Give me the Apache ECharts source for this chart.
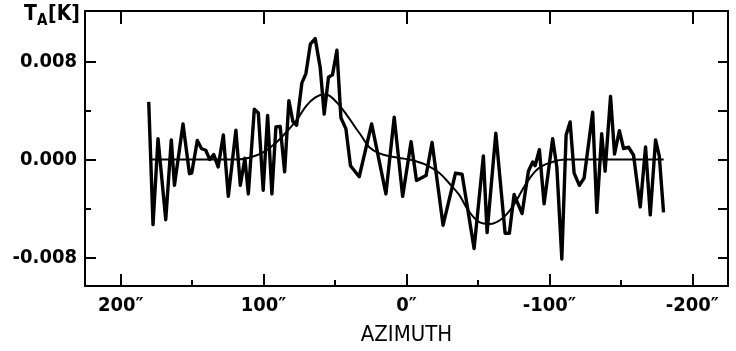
<!DOCTYPE html>
<html>
<head>
<meta charset="utf-8">
<script src="https://cdn.jsdelivr.net/npm/echarts@6/dist/echarts.min.js"></script>
<style>
  html, body { margin: 0; padding: 0; background: #fff; }
  #chart { width: 736px; height: 351px; }
</style>
</head>
<body>
<div id="chart"></div>
<script>
// azimuth in arcsec, antenna temperature in mK (converted to K below)
const noiseAz = [180.4, 177.4, 173.9, 168.5, 164.6, 162.4, 156.4, 151.9, 150.3, 146.4,
    143.5, 140.5, 137.7, 134.9, 131.8, 128.2, 124.7, 119.4, 116.3, 113.1,
    110.7, 106.5, 103.7, 100.3, 97.2, 94.2, 91.4, 88.4, 85.3, 82.3,
    79.5, 76.9, 73.2, 70.4, 67.3, 63.9, 60.4, 57.6, 54.6, 51.8,
    48.7, 45.9, 42.4, 39.2, 33.1, 24.4, 14.4, 8.6, 2.7, -3.2,
    -7.0, -13.7, -17.9, -25.6, -34.3, -38.9, -47.3, -53.8, -56.4, -62.5,
    -69, -72, -75.3, -80.9, -85.3, -88.3, -90, -93, -96.3, -102.3,
    -105.2, -108.7, -111.7, -114.5, -117.3, -121, -124.3, -130.3, -133.2, -136.6,
    -139, -142.8, -145.6, -149, -151.9, -155.4, -158.9, -163.6, -167.3, -170.6,
    -174.3, -176.9, -179.9];
const noiseMk = [4.7, -5.3, 1.7, -4.9, 1.6, -2.1, 2.9, -1.15, -1.1, 1.55,
    0.9, 0.76, 0, 0.4, -0.6, 2.0, -3.0, 2.4, -2.1, 0.1,
    -2.8, 4.1, 3.8, -2.5, 3.6, -2.8, 2.65, 2.7, -1.0, 4.8,
    3.1, 2.8, 6.25, 7.0, 9.4, 9.85, 7.5, 3.7, 6.7, 6.9,
    8.9, 3.4, 2.5, -0.5, -1.4, 2.9, -2.8, 3.45, -3.0, 1.45,
    -1.7, -1.3, 1.4, -5.35, -1.1, -1.2, -7.25, 0.3, -5.95, 2.15,
    -6.0, -6.0, -2.85, -4.4, -0.95, -0.2, -0.5, 0.8, -3.6, 1.7,
    -0.6, -8.1, 2.0, 3.06, -1.1, -2.1, -1.5, 3.85, -4.3, 2.1,
    -0.95, 5.15, 0.45, 2.35, 0.9, 1.0, 0.35, -3.86, 1.03, -4.5,
    1.6, 0.3, -4.3];

const fitAz = [180, 150, 120, 110, 100, 91, 84, 77, 70, 64, 58, 54, 48, 41, 36, 32, 26, 19, 9, -2,
    -14, -23, -30, -37, -43, -51, -58, -67, -75, -83, -92, -102, -111, -140, -180];
const fitMk = [0, 0, 0, 0.15, 0.6, 1.4, 2.25, 3.2, 4.4, 5.05, 5.3, 5.2, 4.55, 3.5, 2.65, 2.0, 1.0, 0.5, 0.2, 0,
    -0.45, -1.1, -1.95, -2.9, -4.1, -5.1, -5.25, -4.8, -3.7, -2.1, -0.75, -0.2, 0, 0, 0];

const xMajorTicks = [200, 100, 0, -100, -200];
const xMinorTicks = [150, 50, -50, -150];
const yMajorTicks = [-0.008, 0, 0.008];
const yMinorTicks = [-0.004, 0.004];
const yAllTicks = [-0.008, -0.004, 0, 0.004, 0.008];

const font = 'DejaVu Sans Condensed';
const black = '#000';

const chart = echarts.init(document.getElementById('chart'));

const baseX = {
    type: 'value',
    min: -225,
    max: 225,
    inverse: true,
    splitLine: { show: false },
    gridIndex: 0
};
const baseY = {
    type: 'value',
    min: -0.0103,
    max: 0.0121,
    splitLine: { show: false },
    gridIndex: 0
};
const frameLine = { show: true, onZero: false, lineStyle: { color: black, width: 2 } };
const noLine = { show: false, onZero: false };
const tickStyle = { color: black, width: 2 };
const textBits = { fill: black, fontFamily: font, fontWeight: 'bold' };

chart.setOption({
    animation: false,
    grid: {
        left: 85, right: 8, top: 11, bottom: 65,
        outerBoundsMode: 'none',
        containLabel: false,
        show: true, borderColor: black, borderWidth: 2, backgroundColor: 'transparent'
    },
    graphic: [
        { type: 'text', left: 24, top: 4, style: Object.assign({ text: 'T', fontSize: 21 }, textBits) },
        { type: 'text', left: 37, top: 14, style: Object.assign({ text: 'A', fontSize: 15 }, textBits) },
        { type: 'text', left: 48, top: 4, style: Object.assign({ text: '[K]', fontSize: 21 }, textBits) }
    ],
    xAxis: [
        Object.assign({}, baseX, {
            position: 'bottom',
            axisLine: frameLine,
            axisTick: { inside: true, length: 12, customValues: xMajorTicks, lineStyle: tickStyle },
            axisLabel: {
                customValues: xMajorTicks, margin: 10, color: black,
                fontFamily: font, fontSize: 20, fontWeight: 'bold',
                formatter: v => v + '″'
            },
            name: 'AZIMUTH',
            nameLocation: 'middle',
            nameGap: 38,
            nameTextStyle: { color: black, fontFamily: font, fontSize: 22 }
        }),
        Object.assign({}, baseX, {
            position: 'bottom',
            axisLine: noLine,
            axisTick: { inside: true, length: 6, customValues: xMinorTicks, lineStyle: tickStyle },
            axisLabel: { show: false }
        }),
        Object.assign({}, baseX, {
            position: 'top',
            axisLine: frameLine,
            axisTick: { inside: true, length: 13, customValues: xMajorTicks, lineStyle: tickStyle },
            axisLabel: { show: false }
        })
    ],
    yAxis: [
        Object.assign({}, baseY, {
            position: 'left',
            axisLine: frameLine,
            axisTick: { inside: true, length: 11, customValues: yMajorTicks, lineStyle: tickStyle },
            axisLabel: {
                customValues: yMajorTicks, margin: 8, color: black,
                fontFamily: font, fontSize: 20, fontWeight: 'bold',
                formatter: v => v.toFixed(3)
            }
        }),
        Object.assign({}, baseY, {
            position: 'left',
            axisLine: noLine,
            axisTick: { inside: true, length: 6, customValues: yMinorTicks, lineStyle: tickStyle },
            axisLabel: { show: false }
        }),
        Object.assign({}, baseY, {
            position: 'right',
            axisLine: frameLine,
            axisTick: { inside: true, length: 10, customValues: yAllTicks, lineStyle: tickStyle },
            axisLabel: { show: false }
        })
    ],
    series: [
        {
            type: 'line',
            xAxisIndex: 0,
            yAxisIndex: 0,
            data: noiseAz.map((a, i) => [a, noiseMk[i] / 1000]),
            showSymbol: false,
            lineStyle: { color: black, width: 3.4, join: 'round' }
        },
        {
            type: 'line',
            xAxisIndex: 0,
            yAxisIndex: 0,
            data: fitAz.map((a, i) => [a, fitMk[i] / 1000]),
            showSymbol: false,
            smooth: 0.4,
            lineStyle: { color: black, width: 2 }
        }
    ]
});
</script>
</body>
</html>
